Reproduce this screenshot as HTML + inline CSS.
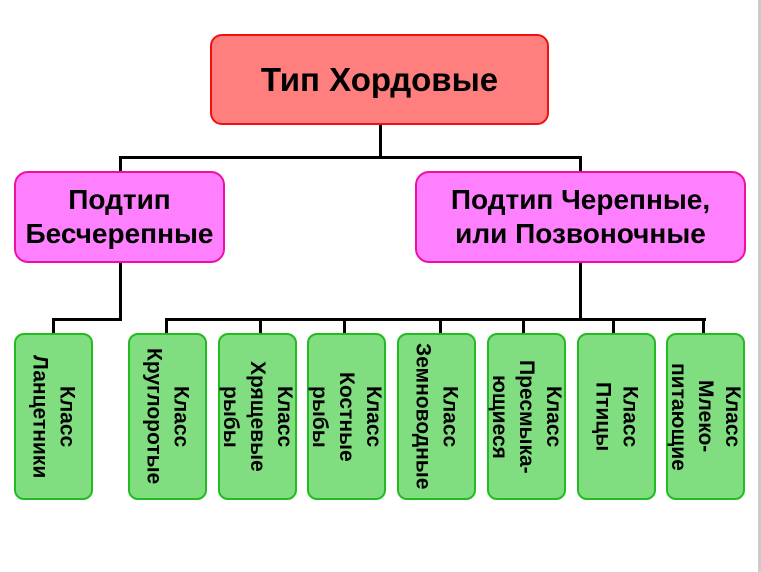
<!DOCTYPE html>
<html><head><meta charset="utf-8"><style>
body{margin:0;width:761px;height:572px;background:#fff;position:relative;overflow:hidden;font-family:"Liberation Sans",sans-serif;font-weight:bold;color:#000}
.b{position:absolute;box-sizing:border-box;display:flex;align-items:center;justify-content:center;text-align:center;white-space:nowrap}
.top{left:210px;top:34px;width:339px;height:91px;background:#ff7f7f;border:2px solid #ee1111;border-radius:12px;font-size:33px}
.p{top:171px;height:92px;background:#ff80ff;border:2px solid #ee10a0;border-radius:14px;font-size:28px;line-height:34px}
.g{top:333px;width:79px;height:167px;background:#80dd80;border:2px solid #22bb22;border-radius:10px;font-size:21px;line-height:27px;writing-mode:vertical-rl}
.l{position:absolute;background:#000}
</style></head><body>
<div class="l" style="left:379px;top:124px;width:3px;height:35px"></div>
<div class="l" style="left:119px;top:156px;width:463px;height:3px"></div>
<div class="l" style="left:119px;top:156px;width:3px;height:16px"></div>
<div class="l" style="left:579px;top:156px;width:3px;height:16px"></div>
<div class="l" style="left:119px;top:262px;width:3px;height:59px"></div>
<div class="l" style="left:52px;top:318px;width:70px;height:3px"></div>
<div class="l" style="left:52px;top:318px;width:3px;height:16px"></div>
<div class="l" style="left:579px;top:262px;width:3px;height:59px"></div>
<div class="l" style="left:165px;top:318px;width:541px;height:3px"></div>
<div class="l" style="left:165px;top:318px;width:3px;height:16px"></div>
<div class="l" style="left:259px;top:318px;width:3px;height:16px"></div>
<div class="l" style="left:343px;top:318px;width:3px;height:16px"></div>
<div class="l" style="left:439px;top:318px;width:3px;height:16px"></div>
<div class="l" style="left:522px;top:318px;width:3px;height:16px"></div>
<div class="l" style="left:612px;top:318px;width:3px;height:16px"></div>
<div class="l" style="left:702px;top:318px;width:3px;height:16px"></div>
<div class="b top">Тип Хордовые</div>
<div class="b p" style="left:14px;width:211px">Подтип<br>Бесчерепные</div>
<div class="b p" style="left:415px;width:331px">Подтип Черепные,<br>или Позвоночные</div>
<div class="b g" style="left:14px">Класс<br>Ланцетники</div>
<div class="b g" style="left:128px">Класс<br>Круглоротые</div>
<div class="b g" style="left:218px">Класс<br>Хрящевые<br>рыбы</div>
<div class="b g" style="left:307px">Класс<br>Костные<br>рыбы</div>
<div class="b g" style="left:397px">Класс<br>Земноводные</div>
<div class="b g" style="left:487px">Класс<br>Пресмыка-<br>ющиеся</div>
<div class="b g" style="left:577px">Класс<br>Птицы</div>
<div class="b g" style="left:666px">Класс<br>Млеко-<br>питающие</div>
<div class="l" style="left:758px;top:0;width:3px;height:572px;background:#ccc"></div>
</body></html>
